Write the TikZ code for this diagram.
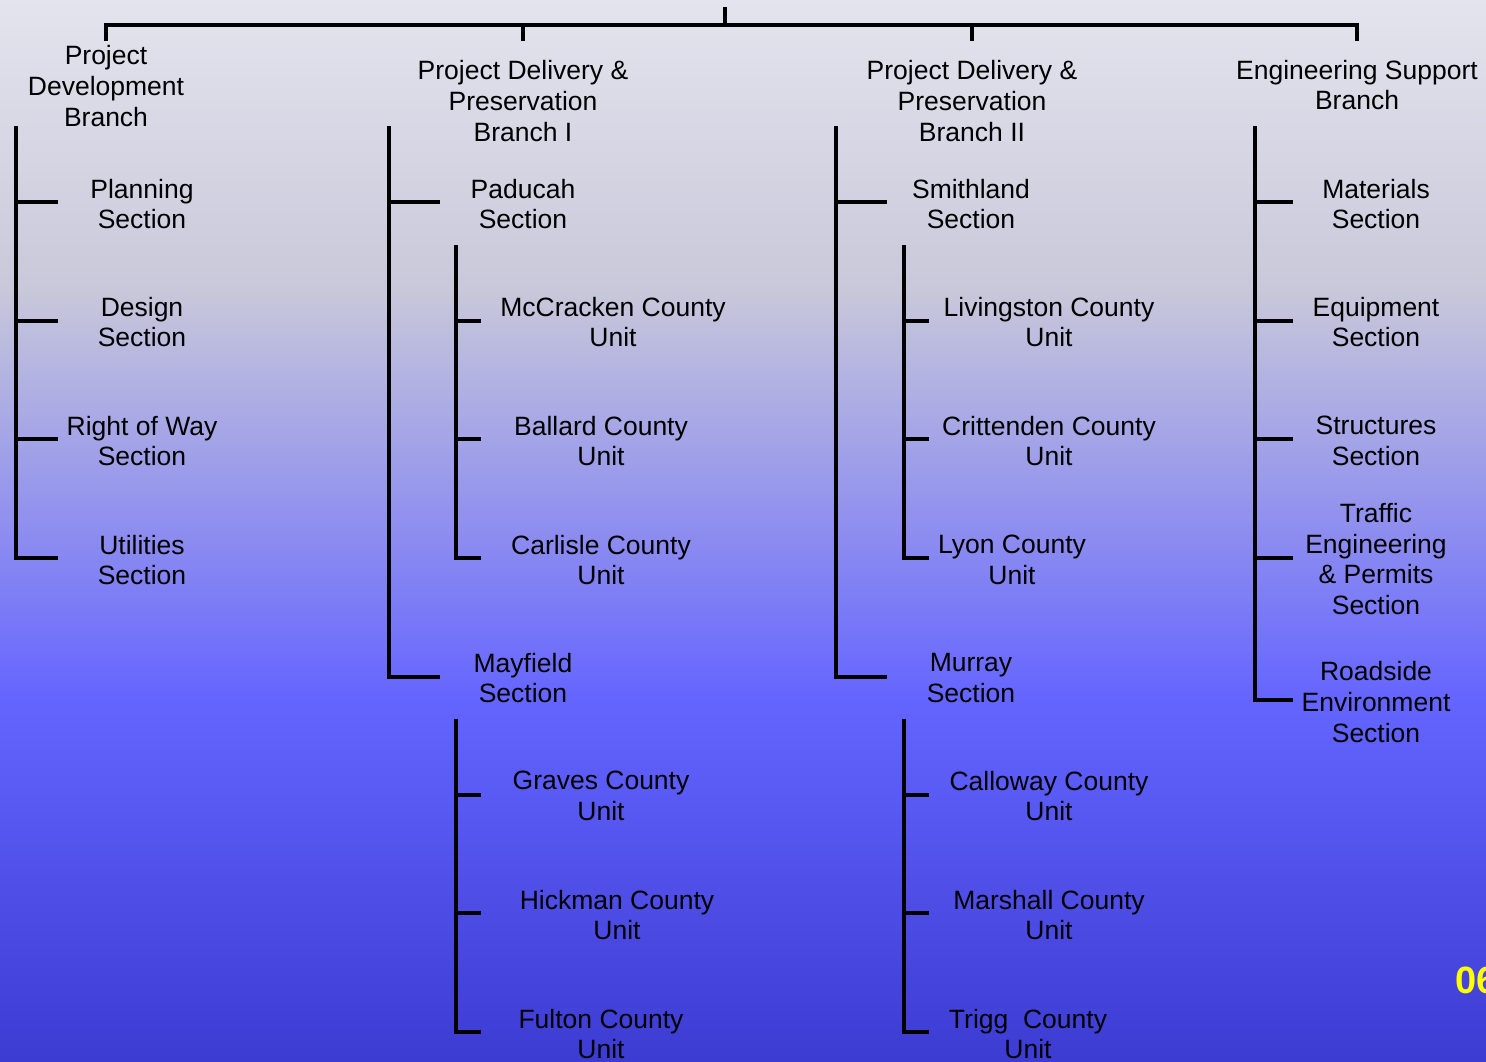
\documentclass[tikz,border=0pt]{standalone}
\usepackage{fontspec}
\setmainfont{Liberation Sans}
\usepackage{tikz}
\usepackage{xcolor}

\definecolor{bgtop}{HTML}{E4E4EE}
\definecolor{bgmid}{HTML}{C8C8DA}
\definecolor{bgblue}{HTML}{6464FF}
\definecolor{bgdeep}{HTML}{3C3CD3}
\definecolor{tagyellow}{HTML}{FFFF00}

\begin{document}
\begin{tikzpicture}[x=0.5pt, y=-0.5pt,
        bar/.style={line width=2.4pt, black},
        lbl/.style={align=center, inner sep=0pt, text=black,
            font=\fontsize{13.25}{15.3}\selectfont}]
            %% 定义bracket命令: 名称, 竖线x, 上端y, 横线终点x, 下端y, 中间横线y
            \newcommand{\bracket}[6]{
                \coordinate (#1) at (#2, #3);
                \coordinate (#1-end) at (#4, #5);
                \draw[bar] (#1) |- (#1-end);
                \foreach \yy [count=\k] in {#6}{
                    \coordinate (#1-\k) at (#4, \yy);
                    \draw[bar] (#1 |- #1-\k) -- (#1-\k);
                }
            }
            %% 背景
            \useasboundingbox (0,0) rectangle (1486,1061);
            \fill[top color=bgtop, bottom color=bgmid] (0,0) rectangle (1486,291);
            \fill[top color=bgmid, bottom color=bgblue] (0,290) rectangle (1486,701);
            \fill[top color=bgblue, bottom color=bgdeep] (0,700) rectangle (1486,1061);

            %% 顶部横线
            \coordinate (root) at (725,7);
            \coordinate (hub) at (725,25);
            \coordinate (b1) at (106,41);
            \coordinate (b2) at (523,41);
            \coordinate (b3) at (972,41);
            \coordinate (b4) at (1357,41);
            \draw[bar] (root) -- (hub);
            \draw[bar] (b1) -- (b1 |- hub) -- (b4 |- hub) -- (b4);
            \draw[bar] (b2) -- (b2 |- hub);
            \draw[bar] (b3) -- (b3 |- hub);

            %% 各分支标题
            \node[lbl] (pdb) at (106,86) {Project\\Development\\Branch};
            \node[lbl] (pdpa) at (523,101) {Project Delivery \&\\Preservation\\Branch I};
            \node[lbl] (pdpb) at (972,101) {Project Delivery \&\\Preservation\\Branch II};
            \node[lbl] (esb) at (1357,85) {Engineering Support\\Branch};

            %% 绘制竖线和横线
            \bracket{spa}{16}{126}{58}{558}{202, 321, 439};
            \bracket{spb}{389}{126}{440}{677}{202};
            \bracket{spba}{456}{245}{481}{558}{321, 439};
            \bracket{spbb}{456}{719}{481}{1032}{795, 913};
            \bracket{spc}{836}{126}{887}{677}{202};
            \bracket{spca}{904}{245}{929}{558}{321, 439};
            \bracket{spcb}{904}{719}{929}{1032}{795, 913};
            \bracket{spd}{1255}{126}{1293}{700}{202, 321, 439, 558};

            %% Project Development
            \node[lbl] (plan) at (142,204) {Planning\\Section};
            \node[lbl] (design) at (142,322) {Design\\Section};
            \node[lbl] (row) at (142,441) {Right of Way\\Section};
            \node[lbl] (util) at (142,560) {Utilities\\Section};

            %% Branch I
            \node[lbl] (paducah) at (523,204) {Paducah\\Section};
            \node[lbl] (mccracken) at (613,322) {McCracken County\\Unit};
            \node[lbl] (ballard) at (601,441) {Ballard County\\Unit};
            \node[lbl] (carlisle) at (601,560) {Carlisle County\\Unit};
            \node[lbl] (mayfield) at (523,678) {Mayfield\\Section};
            \node[lbl] (graves) at (601,796) {Graves County\\Unit};
            \node[lbl] (hickman) at (617,915) {Hickman County\\Unit};
            \node[lbl] (fulton) at (601,1034) {Fulton County\\Unit};

            %% Branch II
            \node[lbl] (smithland) at (971,204) {Smithland\\Section};
            \node[lbl] (livingston) at (1049,322) {Livingston County\\Unit};
            \node[lbl] (crittenden) at (1049,441) {Crittenden County\\Unit};
            \node[lbl] (lyon) at (1012,560) {Lyon County\\Unit};
            \node[lbl] (murray) at (971,678) {Murray\\Section};
            \node[lbl] (calloway) at (1049,796) {Calloway County\\Unit};
            \node[lbl] (marshall) at (1049,915) {Marshall County\\Unit};
            \node[lbl] (trigg) at (1028,1034) {Trigg\ \ County\\Unit};

            %% Engineering Support
            \node[lbl] (materials) at (1376,204) {Materials\\Section};
            \node[lbl] (equipment) at (1376,322) {Equipment\\Section};
            \node[lbl] (structures) at (1376,441) {Structures\\Section};
            \node[lbl] (traffic) at (1376,559) {Traffic\\Engineering\\\& Permits\\Section};
            \node[lbl] (roadside) at (1376,702) {Roadside\\Environment\\Section};

            %% 页码
            \node[anchor=west, inner sep=0pt, text=tagyellow,
                font=\fontsize{19}{19}\selectfont\bfseries] (pagenum) at (1455,980) {06};
        \end{tikzpicture}
\end{document}
